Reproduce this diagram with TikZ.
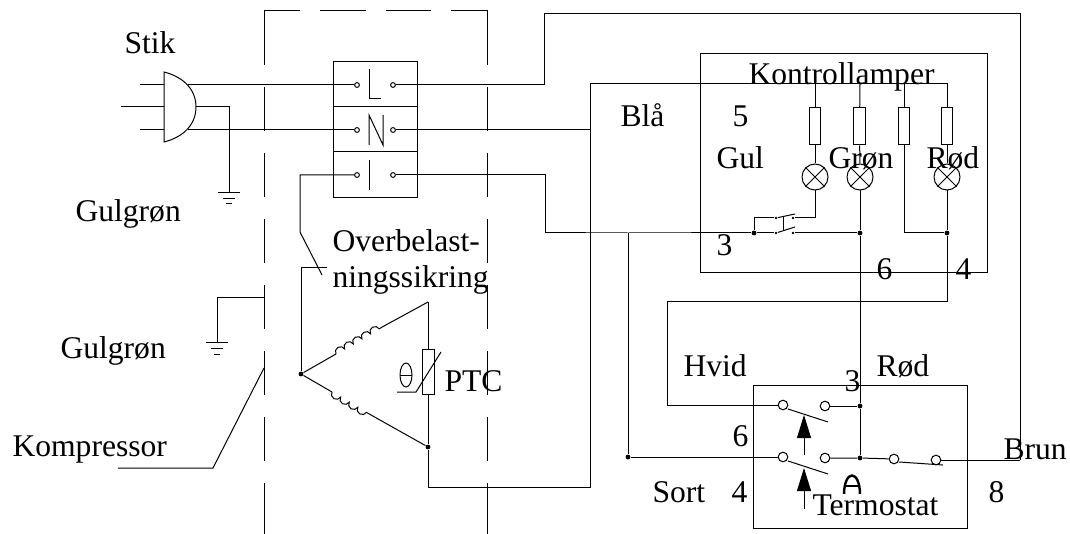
\documentclass[tikz,border=0pt]{standalone}
\usepackage{fontspec}
\setmainfont{Liberation Serif}
\usetikzlibrary{arrows.meta,decorations.pathmorphing}
\tikzset{
  lbl/.style={anchor=base west,inner sep=0pt,font=\fontsize{15.8}{18}\selectfont},
  pin/.style={circle,draw,fill=white,inner sep=0pt,minimum size=2.4pt},
  contact/.style={circle,draw,fill=white,inner sep=0pt,minimum size=4.8pt},
  joint/.style={circle,fill=black,inner sep=0pt,minimum size=2.4pt},
  tiny joint/.style={circle,fill=black,inner sep=0pt,minimum size=1.4pt},
  resistor/.style={draw,fill=white,inner sep=0pt,minimum width=5.8pt,minimum height=18.5pt},
  lamp/.style={circle,draw,inner sep=0pt,minimum size=13pt},
  winding/.style={decorate,decoration={bumps,segment length=10pt,amplitude=2.4pt}},
  push/.style={-{Triangle[length=11.5pt,width=7pt]}}
}
\newcommand{\lampcross}[1]{\draw (#1.45) -- (#1.225); \draw (#1.135) -- (#1.315);}
\begin{document}
\begin{tikzpicture}[x=0.5pt,y=-0.5pt,line width=0.5pt]
  \useasboundingbox (0,0) rectangle (1070,534);
  % kompressor hus
  \draw (264,65) -- (264,11) -- (300,11);
  \draw (320,11) -- (366,11);
  \draw (386,11) -- (431,11);
  \draw (451,11) -- (487,11) -- (487,65);
  \foreach \y in {87,153,219,285,351,417} {
    \draw (264,\y) -- (264,\y+44);
    \draw (487,\y) -- (487,\y+44);
  }
  \draw (264,483) -- (264,534);
  \draw (487,483) -- (487,534);

  % stik
  \draw (164,72) .. controls (184,77) and (196,90) .. (196,107) .. controls (196,124) and (184,137) .. (164,142) -- cycle;
  \coordinate (stikA) at (140,85);
  \coordinate (stikB) at (121,107);
  \coordinate (stikC) at (140,130);
  \coordinate (stikAin) at (164,85);
  \coordinate (stikBin) at (164,107);
  \coordinate (stikCin) at (164,130);
  \coordinate (stikAout) at (188,85);
  \coordinate (stikBout) at (196,107);
  \coordinate (stikCout) at (188,130);
  \coordinate (jord1) at (229,193);
  \draw (stikA) -- (stikAin);
  \draw (stikB) -- (stikBin);
  \draw (stikC) -- (stikCin);
  \draw (stikBout) -| (jord1);
  \draw (218,193) -- (240,193);
  \draw (223,199) -- (235,199);
  \draw (226,204) -- (232,204);

  % klemrække
  \draw (333,62) rectangle (417,198);
  \draw (333,107) -- (417,107);
  \draw (333,152) -- (417,152);
  \draw (369,69) -- (369,99) -- (381,99);
  \draw (369,145) -- (369,115) -- (383,145) -- (383,115);
  \draw (369,160) -- (369,190);
  \node [pin] (Lin) at (357,85) {};
  \node [pin] (Lout) at (393,85) {};
  \node [pin] (Nin) at (357,130) {};
  \node [pin] (Nout) at (393,130) {};
  \node [pin] (Iin) at (357,175) {};
  \node [pin] (Iout) at (393,175) {};
  \draw (stikAout) -- (Lin);
  \draw (stikCout) -- (Nin);

  % overbelastningssikring og viklinger
  \node [joint] (midt) at (301,374) {};
  \node [joint] (ptcbund) at (428,447) {};
  \coordinate (ptctop) at (428,302);
  \coordinate (sik1) at (300,232);
  \coordinate (sik2) at (322,275);
  \coordinate (sik3) at (301,267);
  \coordinate (sik4) at (327,267);
  \draw (Iin) -| (sik1) -- (sik2);
  \draw (sik4) -- (sik3) -- (midt);
  \draw (midt) -- (336,354);
  \draw [winding] (336,354) -- (384,326);
  \draw (384,326) -- (ptctop);
  \draw (midt) -- (332,392);
  \draw [winding,decoration={mirror}] (332,392) -- (371,415);
  \draw (371,415) -- (ptcbund);

  % ptc
  \node [draw,inner sep=0pt,minimum width=6pt,minimum height=22.5pt] (ptc) at (428,371.5) {};
  \draw (ptctop) -- (ptc);
  \draw (ptc) -- (ptcbund);
  \draw (397,392) -- (416,392) -- (441,352);
  \draw (406,375) ellipse (6 and 12);
  \draw (400,375) -- (412,375);

  % jord ved kompressor
  \coordinate (jord2) at (217,342);
  \draw (264,297) -| (jord2);
  \draw (206,342) -- (228,342);
  \draw (211,348) -- (223,348);
  \draw (214,354) -- (220,354);
  \draw (264,368) -- (213,468) -- (118,468);

  % kontrollamper
  \draw (700,54) rectangle (987,272);
  \node [resistor] (mod1) at (815,126.5) {};
  \node [resistor] (mod2) at (859.5,126.5) {};
  \node [resistor] (mod3) at (904,126.5) {};
  \node [resistor] (mod4) at (947,126.5) {};
  \node [lamp] (lampGul) at (815,177) {};
  \node [lamp] (lampGron) at (860,177) {};
  \node [lamp] (lampRod) at (947,177) {};
  \lampcross{lampGul}
  \lampcross{lampGron}
  \lampcross{lampRod}
  \coordinate (bla1) at (590,84);
  \coordinate (top1) at (815,84);
  \coordinate (top2) at (860,84);
  \coordinate (top3) at (904,84);
  \coordinate (top4) at (947,84);
  \draw (Nout) -- (590,130);
  \draw (bla1) -- (top4) -- (mod4);
  \draw (top1) -- (mod1);
  \draw (top2) -- (mod2);
  \draw (top3) -- (mod3);
  \draw (mod1) -- (lampGul);
  \draw (mod2) -- (lampGron);
  \node [joint] (j3) at (860,233) {};
  \node [joint] (j4) at (947,233) {};
  \node [joint] (j5) at (754,233) {};
  \node [tiny joint] (sw1) at (776,233) {};
  \node [tiny joint] (sw2) at (793,233) {};
  \node [tiny joint] (sw3) at (776,218) {};
  \node [tiny joint] (sw4) at (793,218) {};
  \coordinate (gulned) at (815,218);
  \draw (mod3) |- (j4);
  \draw (mod4) -- (lampRod);
  \draw (lampGul) -- (gulned) -- (sw4);
  \draw (sw3) -| (j5);
  \draw (sw1) -- (795,227);
  \draw (sw3) -- (795,214);
  \draw [line width=0.35pt] (783,216) -- (783,231);
  \draw (sw2) -- (j3);

  % ledninger
  \coordinate (brunA) at (544,14);
  \coordinate (brunB) at (1020,14);
  \coordinate (brunC) at (1020,460);
  \draw (Lout) -| (brunA) -- (brunB) -- (brunC);
  \draw (bla1) -- (590,487) -| (ptcbund);
  \coordinate (j1) at (628,233);
  \draw (Iout) -| (545,233) -- (j1) -- (j5) -- (sw1);
  \draw (lampGron) -- (j3);
  \draw (lampRod) -- (j4);

  % termostat
  \draw (753,385) rectangle (967,528);
  \node [contact] (t1) at (783,405) {};
  \node [contact] (t2) at (825,406) {};
  \node [contact] (t3) at (783,457) {};
  \node [contact] (t4) at (825,458) {};
  \node [contact] (t5) at (894,459) {};
  \node [contact] (t6) at (936,460) {};
  \node [joint] (j6) at (860,406) {};
  \node [joint] (j7) at (860,458) {};
  \node [joint] (j8) at (628,457) {};
  \draw (j3) -- (j6) -- (j7);
  \draw (j4) -- (947,301) -- (667,301) |- (t1);
  \draw (j1) -- (j8) -- (t3);
  \draw (t2) -- (j6);
  \draw (t4) -- (j7) -- (t5);
  \draw (t6) -- (brunC);
  \draw (788,409) -- (828,422);
  \draw (788,461) -- (828,474);
  \draw (899,462) -- (943,465);
  \coordinate (pil1a) at (804,455);
  \coordinate (pil1b) at (804,415);
  \coordinate (pil2a) at (804,509);
  \coordinate (pil2b) at (804,468);
  \draw [push] (pil1a) -- (pil1b);
  \draw [push] (pil2a) -- (pil2b);
  \draw [line width=1.2pt] (844,495) .. controls (844,469) and (860,469) .. (860,495);
  \draw [line width=1pt] (844,486) -- (860,486);

  % tekster
  \node [lbl] (txtStik) at (124,54) {Stik};
  \node [lbl] (txtGg1) at (75,222) {Gulgrøn};
  \node [lbl] (txtGg2) at (60,358) {Gulgrøn};
  \node [lbl] (txtKomp) at (12,456) {Kompressor};
  \node [lbl] (txtOver) at (332,251) {Overbelast-};
  \node [lbl] (txtNing) at (332,287) {ningssikring};
  \node [lbl] (txtPtc) at (444,391) {PTC};
  \node [lbl] (txtKontrol) at (748,85) {Kontrollamper};
  \node [lbl] (txtBla) at (620,127) {Blå};
  \node [lbl] (txtFem) at (732,127) {5};
  \node [lbl] (txtGul) at (716,169) {Gul};
  \node [lbl] (txtGron) at (828,169) {Grøn};
  \node [lbl] (txtRod) at (926,169) {Rød};
  \node [lbl] (txtTre) at (716,256) {3};
  \node [lbl] (txtSeks) at (876,279) {6};
  \node [lbl] (txtFire) at (955,279) {4};
  \node [lbl] (txtHvid) at (683,376) {Hvid};
  \node [lbl] (txtTreB) at (844,391) {3};
  \node [lbl] (txtRodB) at (876,376) {Rød};
  \node [lbl] (txtSeksB) at (732,446) {6};
  \node [lbl] (txtBrun) at (1003,459) {Brun};
  \node [lbl] (txtSort) at (652,502) {Sort};
  \node [lbl] (txtFireB) at (731,502) {4};
  \node [lbl] (txtOtte) at (988,502) {8};
  \node [lbl,fill=white,text depth=0pt] (txtTermo) at (812,515) {Termostat};
\end{tikzpicture}
\end{document}
